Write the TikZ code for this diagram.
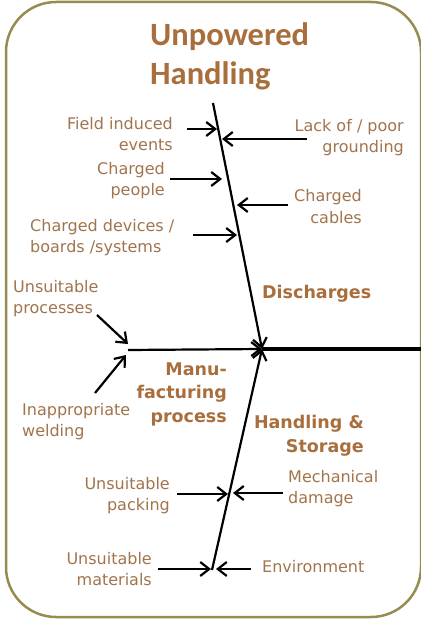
\documentclass[tikz,border=0pt]{standalone}
\usepackage{fontspec}
\setmainfont{DejaVu Sans}
\newfontfamily\titlefont{Carlito}
\usepackage{tikz}
\usetikzlibrary{arrows.meta,calc}
\definecolor{framecol}{RGB}{150,140,82}
\definecolor{titlecol}{RGB}{168,110,60}
\definecolor{labelcol}{RGB}{160,116,76}
\tikzset{
  bone/.style={line width=2.2pt,-{Straight Barb[length=9pt,width=14pt]}},
  arr/.style={line width=2.2pt,-{Straight Barb[length=9pt,width=14pt]}},
  lbl/.style={text=labelcol,inner sep=0pt,font=\fontsize{16}{21}\selectfont},
  grp/.style={text=titlecol,inner sep=0pt,font=\fontsize{17.5}{23.5}\selectfont\bfseries}
}
\begin{document}
\begin{tikzpicture}[x=1pt,y=-1pt]
        % Canvas and frame
        \useasboundingbox (0,0) rectangle (420,620);
        \draw[framecol,line width=2.5pt,rounded corners=50pt] (6,2) rectangle (421,617);

        % Title (base = last line)
        \node[anchor=base west,text=titlecol,inner sep=0pt,align=left,
              font=\fontsize{32.5}{39}\selectfont\titlefont\bfseries] (title) at (150,85)
              {Unpowered\\Handling};

        % Bone end points
        \coordinate (head) at (262,349);
        \coordinate (dtop) at (213,103);
        \coordinate (hbot) at (212,570);
        \coordinate (mstart) at (128,350);
        \coordinate (tail) at (421,349);

        % Spine and bones
        \draw[line width=4.5pt] (head) -- (tail);
        \draw[bone] (dtop) -- (head);
        \draw[bone] (hbot) -- (head);
        \draw[bone] (mstart) -- (head);

        % Group labels
        \node[grp,anchor=base west] (dis) at (262,298) {Discharges};
        \node[grp,anchor=base east,align=right] (man) at (227,422) {Manu-\\facturing\\process};
        \node[grp,anchor=base east,align=right] (hst) at (364,452) {Handling \&\\Storage};

        % Discharges causes
        \node[lbl,anchor=base east,align=right] (field) at (173,151) {Field induced\\events};
        \node[lbl,anchor=base east,align=right] (ground) at (404,153) {Lack of / poor\\grounding};
        \node[lbl,anchor=base east,align=right] (people) at (165,196) {Charged\\people};
        \node[lbl,anchor=base east,align=right] (cables) at (362,223) {Charged\\cables};
        \node[lbl,anchor=base west,align=left] (devices) at (30,252) {Charged devices /\\boards /systems};
        \coordinate (fieldS) at (187,129);   \coordinate (fieldE) at (217,129);
        \coordinate (groundS) at (307,139);  \coordinate (groundE) at (222,139);
        \coordinate (peopleS) at (170,179);  \coordinate (peopleE) at (222,179);
        \coordinate (cablesS) at (288,205);  \coordinate (cablesE) at (237,205);
        \coordinate (devicesS) at (193,235); \coordinate (devicesE) at (237,235);
        \draw[arr] (fieldS) -- (fieldE);
        \draw[arr] (groundS) -- (groundE);
        \draw[arr] (peopleS) -- (peopleE);
        \draw[arr] (cablesS) -- (cablesE);
        \draw[arr] (devicesS) -- (devicesE);

        % Manufacturing causes
        \node[lbl,anchor=base west,align=left] (procs) at (13,313) {Unsuitable\\processes};
        \node[lbl,anchor=base west,align=left] (weld) at (22,436) {Inappropriate\\welding};
        \coordinate (procsS) at (97,315);  \coordinate (procsE) at (128,344);
        \coordinate (weldS) at (95,393);   \coordinate (weldE) at (126,355);
        \draw[arr] (procsS) -- (procsE);
        \draw[arr] (weldS) -- (weldE);

        % Handling & storage causes
        \node[lbl,anchor=base east,align=right] (pack) at (170,510) {Unsuitable\\packing};
        \node[lbl,anchor=base west,align=left] (mech) at (288,503) {Mechanical\\damage};
        \node[lbl,anchor=base east,align=right] (mat) at (152,585) {Unsuitable\\materials};
        \node[lbl,anchor=base west] (env) at (262,572) {Environment};
        \coordinate (packS) at (177,494);  \coordinate (packE) at (228,494);
        \coordinate (mechS) at (283,493);  \coordinate (mechE) at (233,493);
        \coordinate (matS) at (158,569);   \coordinate (matE) at (211,569);
        \coordinate (envS) at (251,569);   \coordinate (envE) at (216,569);
        \draw[arr] (packS) -- (packE);
        \draw[arr] (mechS) -- (mechE);
        \draw[arr] (matS) -- (matE);
        \draw[arr] (envS) -- (envE);
\end{tikzpicture}
\end{document}
